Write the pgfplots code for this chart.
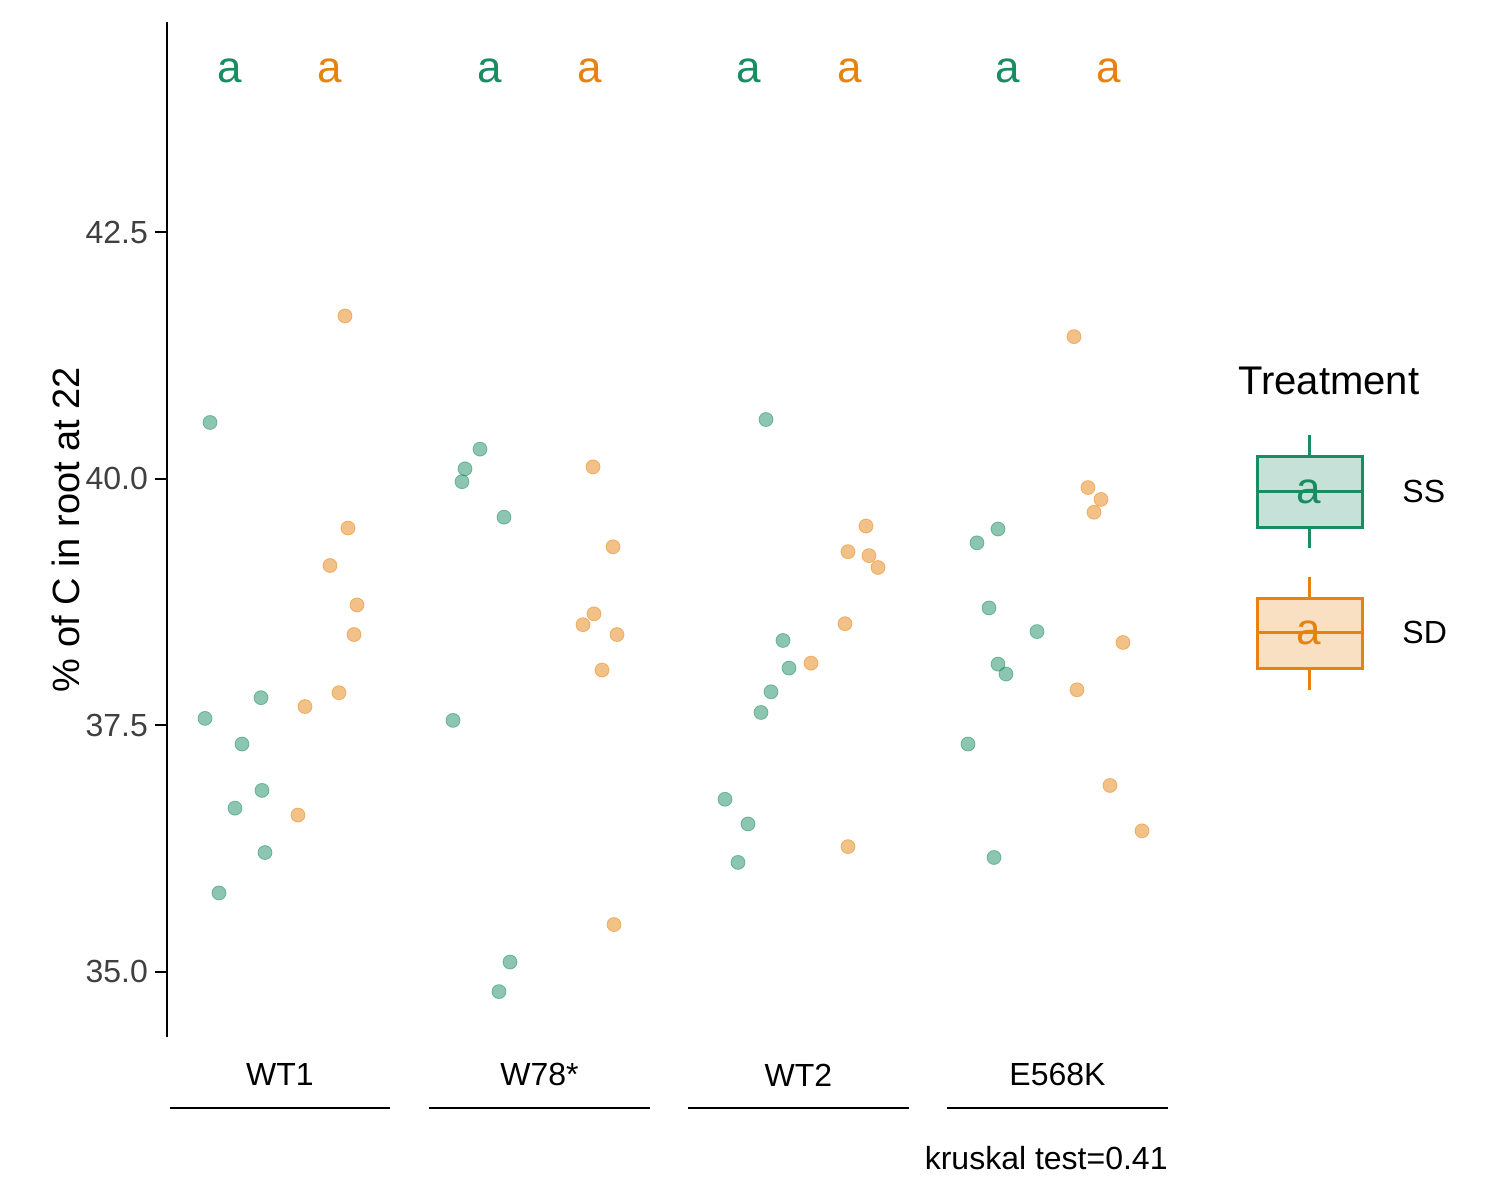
\documentclass[border=0pt]{standalone}
\usepackage{pgfplots}
\pgfplotsset{compat=1.18}
\usepgfplotslibrary{statistics}
\usepackage{fontspec}
\setmainfont{Liberation Sans}
\definecolor{gss}{HTML}{1A8C62}
\definecolor{gsd}{HTML}{E68310}
\newcommand{\bx}[7]{\addplot[draw=#7,fill=#7,fill opacity=0.25,draw opacity=1,line width=1.5pt,
 boxplot prepared={draw position=#1,lower whisker=#2,lower quartile=#3,median=#4,upper quartile=#5,upper whisker=#6,box extend=0.75,whisker extend=0,
 every median/.style={line width=3pt}}] coordinates {};}
\begin{document}
\begin{tikzpicture}
\path[use as bounding box] (-83.5pt,-81.5pt) rectangle (666.5pt,518.5pt);
\begin{axis}[at={(0,0)},anchor=south west,scale only axis,width=501.5pt,height=507.5pt,
 xmin=1.67,xmax=11.70,ymin=34.34,ymax=44.63,clip=false,
 axis x line=none, axis y line*=left, y axis line style={line width=1.2pt,-},
 ytick={35,37.5,40,42.5}, yticklabels={35.0,37.5,40.0,42.5},
 tick label style={font=\fontsize{16}{16}\selectfont,text=black!75},
 ytick style={line width=1pt,black}, tick align=outside, major tick length=6pt,
 ylabel={\% of C in root at 22}, ylabel style={font=\fontsize{19}{19}\selectfont,yshift=-4pt}]
\bx{2.30}{35.81}{36.54}{37.08}{37.62}{37.76}{gss}
\bx{3.30}{36.59}{37.79}{38.57}{39.21}{39.48}{gsd}
\bx{4.90}{34.80}{36.32}{39.61}{40.02}{40.29}{gss}
\bx{5.90}{38.08}{38.25}{38.52}{38.98}{39.30}{gsd}
\bx{7.49}{36.12}{36.68}{37.74}{38.14}{38.35}{gss}
\bx{8.50}{38.14}{38.33}{39.10}{39.24}{39.51}{gsd}
\bx{10.08}{37.32}{37.85}{38.29}{38.85}{39.46}{gss}
\bx{11.09}{36.44}{37.61}{39.00}{39.83}{41.43}{gsd}
\addplot[only marks,mark=*,mark size=3.5pt,gss,opacity=0.5,mark options={draw=none}] coordinates {
(2.05,37.57)(2.10,40.57)(2.19,35.80)(2.35,36.66)(2.42,37.31)(2.61,37.78)(2.62,36.84)(2.65,36.21)
(4.53,37.55)(4.62,39.97)(4.65,40.10)(4.80,40.30)(4.99,34.80)(5.04,39.61)(5.10,35.10)
(7.25,36.75)(7.38,36.11)(7.48,36.50)(7.61,37.63)(7.66,40.60)(7.71,37.84)(7.83,38.36)(7.89,38.08)
(9.68,37.31)(9.77,39.35)(9.89,38.69)(9.94,36.16)(9.98,39.49)(9.98,38.12)(10.06,38.02)(10.37,38.45)};
\addplot[only marks,mark=*,mark size=3.5pt,gsd,opacity=0.5,mark options={draw=none}] coordinates {
(2.98,36.59)(3.05,37.69)(3.30,39.12)(3.39,37.83)(3.45,41.65)(3.48,39.50)(3.54,38.42)(3.57,38.72)
(5.83,38.52)(5.93,40.12)(5.94,38.63)(6.02,38.06)(6.13,39.31)(6.14,35.48)(6.17,38.42)
(8.11,38.13)(8.45,38.53)(8.48,36.27)(8.48,39.26)(8.66,39.52)(8.69,39.22)(8.78,39.10)
(10.74,41.44)(10.77,37.86)(10.88,39.91)(10.94,39.66)(11.01,39.79)(11.10,36.89)(11.23,38.34)(11.42,36.43)};
% letters
\node[gss,font=\fontsize{22}{22}\selectfont] at (axis cs:2.30,44.13) {a};
\node[gss,font=\fontsize{22}{22}\selectfont] at (axis cs:4.90,44.13) {a};
\node[gss,font=\fontsize{22}{22}\selectfont] at (axis cs:7.49,44.13) {a};
\node[gss,font=\fontsize{22}{22}\selectfont] at (axis cs:10.08,44.13) {a};
\node[gsd,font=\fontsize{22}{22}\selectfont] at (axis cs:3.30,44.13) {a};
\node[gsd,font=\fontsize{22}{22}\selectfont] at (axis cs:5.90,44.13) {a};
\node[gsd,font=\fontsize{22}{22}\selectfont] at (axis cs:8.50,44.13) {a};
\node[gsd,font=\fontsize{22}{22}\selectfont] at (axis cs:11.09,44.13) {a};
% group labels
\draw[line width=1.3pt] (axis cs:1.70,33.62) -- (axis cs:3.90,33.62);
\draw[line width=1.3pt] (axis cs:4.29,33.62) -- (axis cs:6.50,33.62);
\draw[line width=1.3pt] (axis cs:6.88,33.62) -- (axis cs:9.09,33.62);
\draw[line width=1.3pt] (axis cs:9.47,33.62) -- (axis cs:11.68,33.62);
\node[font=\fontsize{16}{16}\selectfont] at (axis cs:2.80,33.955) {WT1};
\node[font=\fontsize{16}{16}\selectfont] at (axis cs:5.395,33.955) {W78*};
\node[font=\fontsize{16}{16}\selectfont] at (axis cs:7.985,33.955) {WT2};
\node[font=\fontsize{16}{16}\selectfont] at (axis cs:10.575,33.955) {E568K};
\node[anchor=east,font=\fontsize{16}{16}\selectfont,inner sep=0pt] at (axis cs:11.68,33.11) {kruskal test=0.41};
% legend
\node[anchor=west,font=\fontsize{20}{20}\selectfont,inner sep=0pt] at (axis cs:12.38,40.99) {Treatment};
\draw[gss,line width=1.5pt] (axis cs:13.09,40.44)--(axis cs:13.09,39.30);
\draw[gss,line width=1.5pt,fill=gss!25] (axis cs:12.57,39.51) rectangle (axis cs:13.62,40.22);
\draw[gss,line width=1.5pt] (axis cs:12.57,39.87)--(axis cs:13.62,39.87);
\node[gss,font=\fontsize{22}{22}\selectfont] at (axis cs:13.09,39.87) {a};
\draw[gsd,line width=1.5pt] (axis cs:13.09,39.00)--(axis cs:13.09,37.86);
\draw[gsd,line width=1.5pt,fill=gsd!25] (axis cs:12.57,38.08) rectangle (axis cs:13.62,38.79);
\draw[gsd,line width=1.5pt] (axis cs:12.57,38.44)--(axis cs:13.62,38.44);
\node[gsd,font=\fontsize{22}{22}\selectfont] at (axis cs:13.09,38.44) {a};
\node[anchor=west,font=\fontsize{16}{16}\selectfont,inner sep=0pt] at (axis cs:14.02,39.87) {SS};
\node[anchor=west,font=\fontsize{16}{16}\selectfont,inner sep=0pt] at (axis cs:14.02,38.44) {SD};
\end{axis}
\end{tikzpicture}
\end{document}
